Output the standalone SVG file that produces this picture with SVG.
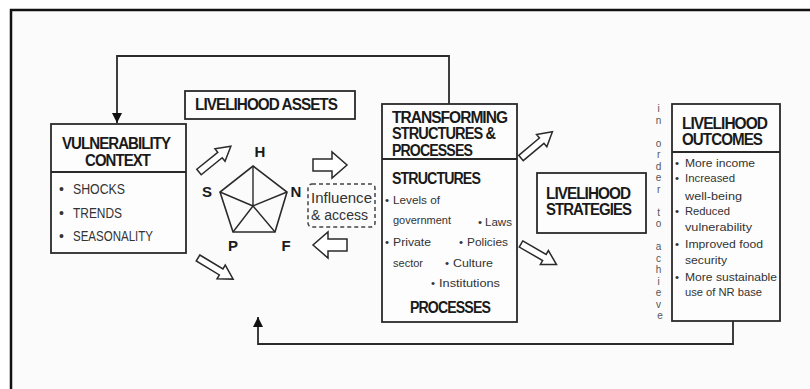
<svg xmlns="http://www.w3.org/2000/svg" xmlns:xlink="http://www.w3.org/1999/xlink" width="810" height="389" viewBox="0 0 810 389">
<style>
.box{fill:#fdfdfd;stroke:#2a2a2a;stroke-width:1.8}
.ln{fill:none;stroke:#2a2a2a;stroke-width:1.8}
.ttl{font-family:"Liberation Sans",Arial,sans-serif;font-weight:bold;font-size:16px;fill:#1a1a1a;letter-spacing:-1px}
.bd{font-family:"Liberation Sans",Arial,sans-serif;font-size:11.5px;fill:#333}
.vb{font-family:"Liberation Sans",Arial,sans-serif;font-size:14px;fill:#333}
.lt{font-family:"Liberation Sans",Arial,sans-serif;font-weight:bold;font-size:15px;fill:#1a1a1a}
.vt{font-family:"Liberation Sans",Arial,sans-serif;font-size:10px;fill:#555}
.harr{fill:#fff;stroke:#2a2a2a;stroke-width:1.5;stroke-linejoin:miter}
</style>
<defs>
<path id="bigArr" class="harr" d="M0,-6 L19,-6 L19,-13 L34,0 L19,13 L19,6 L0,6 Z"/>
<path id="diagArr" class="harr" d="M0,-3.5 L27,-3.5 L27,-8 L41,0 L27,8 L27,3.5 L0,3.5 Z"/>
<marker id="ah" viewBox="0 0 10 10" refX="10" refY="5" markerWidth="10" markerHeight="10" markerUnits="userSpaceOnUse" orient="auto">
<path d="M0,0 L10,5 L0,10 Z" fill="#111"/>
</marker>
</defs>
<rect x="0" y="0" width="810" height="389" fill="#fff"/>
<rect x="11" y="10" width="820" height="400" fill="#fbfbfb" stroke="#111" stroke-width="2.5"/>

<g id="connectors">
<path class="ln" d="M449,104 L449,56 L117,56 L117,123" marker-end="url(#ah)"/>
<path class="ln" d="M733,321 L733,344 L258,344 L258,317" marker-end="url(#ah)"/>
<line x1="517" y1="159" x2="382" y2="322" class="ln"/>
<use xlink:href="#diagArr" transform="translate(199,172) rotate(-39)"/>
<use xlink:href="#diagArr" transform="translate(198,258) rotate(31)"/>
<use xlink:href="#bigArr" transform="translate(313,165)"/>
<use xlink:href="#bigArr" transform="translate(347,245) rotate(180)"/>
<use xlink:href="#diagArr" transform="translate(521,158) rotate(-40)"/>
<use xlink:href="#diagArr" transform="translate(521,244) rotate(30)"/>
</g>

<g id="vulnerability">
<rect class="box" x="51" y="124" width="135" height="129"/>
<line class="ln" x1="51" y1="172" x2="186" y2="172"/>
<text class="ttl" x="62" y="149" textLength="108" lengthAdjust="spacingAndGlyphs">VULNERABILITY</text>
<text class="ttl" x="85" y="166" textLength="65" lengthAdjust="spacingAndGlyphs">CONTEXT</text>
<text class="vb" x="59" y="194">•</text>
<text class="vb" x="73" y="194" textLength="52" lengthAdjust="spacingAndGlyphs">SHOCKS</text>
<text class="vb" x="59" y="218">•</text>
<text class="vb" x="73" y="218" textLength="49" lengthAdjust="spacingAndGlyphs">TRENDS</text>
<text class="vb" x="59" y="241">•</text>
<text class="vb" x="73" y="241" textLength="80" lengthAdjust="spacingAndGlyphs">SEASONALITY</text>
</g>

<g id="assets">
<rect class="box" x="185" y="91" width="170" height="28"/>
<text class="ttl" x="195" y="110" textLength="142" lengthAdjust="spacingAndGlyphs">LIVELIHOOD ASSETS</text>
</g>

<g id="pentagon">
<polygon points="253,166 287,192 275,232 233,232 220,192" fill="none" stroke="#2a2a2a" stroke-width="1.6"/>
<path d="M253,206 L253,166 M253,206 L287,192 M253,206 L275,232 M253,206 L233,232 M253,206 L220,192" fill="none" stroke="#2a2a2a" stroke-width="1.4"/>
<text class="lt" x="260" y="157" text-anchor="middle">H</text>
<text class="lt" x="207" y="197" text-anchor="middle">S</text>
<text class="lt" x="296" y="197" text-anchor="middle">N</text>
<text class="lt" x="233" y="251" text-anchor="middle">P</text>
<text class="lt" x="286" y="251" text-anchor="middle">F</text>
</g>

<g id="influence">
<rect x="308" y="184" width="67" height="43" rx="4" fill="none" stroke="#444" stroke-width="1.5" stroke-dasharray="4,3"/>
<text class="vb" x="311" y="203" textLength="61" lengthAdjust="spacingAndGlyphs">Influence</text>
<text class="vb" x="311" y="220" textLength="57" lengthAdjust="spacingAndGlyphs">&amp; access</text>
</g>

<g id="transforming">
<rect class="box" x="382" y="104" width="135" height="218"/>
<line class="ln" x1="382" y1="159" x2="517" y2="159"/>
<text class="ttl" x="392" y="123" textLength="115" lengthAdjust="spacingAndGlyphs">TRANSFORMING</text>
<text class="ttl" x="392" y="139" textLength="103" lengthAdjust="spacingAndGlyphs">STRUCTURES &amp;</text>
<text class="ttl" x="392" y="156" textLength="80" lengthAdjust="spacingAndGlyphs">PROCESSES</text>
<text class="ttl" x="392" y="184" textLength="88" lengthAdjust="spacingAndGlyphs">STRUCTURES</text>
<text class="bd" x="385" y="204">•</text>
<text class="bd" x="393" y="204" textLength="47" lengthAdjust="spacingAndGlyphs">Levels of</text>
<text class="bd" x="393" y="224" textLength="58" lengthAdjust="spacingAndGlyphs">government</text>
<text class="bd" x="385" y="246">•</text>
<text class="bd" x="393" y="246" textLength="38" lengthAdjust="spacingAndGlyphs">Private</text>
<text class="bd" x="393" y="267" textLength="30" lengthAdjust="spacingAndGlyphs">sector</text>
<text class="bd" x="478" y="226">•</text>
<text class="bd" x="485" y="226" textLength="27" lengthAdjust="spacingAndGlyphs">Laws</text>
<text class="bd" x="459" y="246">•</text>
<text class="bd" x="467" y="246" textLength="41" lengthAdjust="spacingAndGlyphs">Policies</text>
<text class="bd" x="445" y="267">•</text>
<text class="bd" x="453" y="267" textLength="40" lengthAdjust="spacingAndGlyphs">Culture</text>
<text class="bd" x="431" y="287">•</text>
<text class="bd" x="439" y="287" textLength="61" lengthAdjust="spacingAndGlyphs">Institutions</text>
<text class="ttl" x="410" y="313" textLength="80" lengthAdjust="spacingAndGlyphs">PROCESSES</text>
</g>

<g id="strategies">
<rect class="box" x="537" y="173" width="109" height="60"/>
<text class="ttl" x="546" y="199" textLength="84" lengthAdjust="spacingAndGlyphs">LIVELIHOOD</text>
<text class="ttl" x="546" y="215" textLength="85" lengthAdjust="spacingAndGlyphs">STRATEGIES</text>
</g>

<g id="in-order-to-achieve">
<text class="vt" text-anchor="middle">
<tspan x="660" y="112">i</tspan>
<tspan x="660" y="123.5">n</tspan>
<tspan x="660" y="146.5">o</tspan>
<tspan x="660" y="158">r</tspan>
<tspan x="660" y="169.5">d</tspan>
<tspan x="660" y="181">e</tspan>
<tspan x="660" y="192.5">r</tspan>
<tspan x="660" y="215.5">t</tspan>
<tspan x="660" y="227">o</tspan>
<tspan x="660" y="250">a</tspan>
<tspan x="660" y="261.5">c</tspan>
<tspan x="660" y="273">h</tspan>
<tspan x="660" y="284.5">i</tspan>
<tspan x="660" y="296">e</tspan>
<tspan x="660" y="307.5">v</tspan>
<tspan x="660" y="319">e</tspan>
</text>
</g>

<g id="outcomes">
<rect class="box" x="672" y="104" width="108" height="217"/>
<line class="ln" x1="672" y1="152" x2="780" y2="152"/>
<text class="ttl" x="682" y="129" textLength="85" lengthAdjust="spacingAndGlyphs">LIVELIHOOD</text>
<text class="ttl" x="682" y="145" textLength="80" lengthAdjust="spacingAndGlyphs">OUTCOMES</text>
<text class="bd" x="675" y="167">•</text>
<text class="bd" x="685" y="167" textLength="70" lengthAdjust="spacingAndGlyphs">More income</text>
<text class="bd" x="675" y="182">•</text>
<text class="bd" x="685" y="182" textLength="50" lengthAdjust="spacingAndGlyphs">Increased</text>
<text class="bd" x="685" y="200" textLength="57" lengthAdjust="spacingAndGlyphs">well-being</text>
<text class="bd" x="675" y="215">•</text>
<text class="bd" x="685" y="215" textLength="45" lengthAdjust="spacingAndGlyphs">Reduced</text>
<text class="bd" x="685" y="231" textLength="67" lengthAdjust="spacingAndGlyphs">vulnerability</text>
<text class="bd" x="675" y="248">•</text>
<text class="bd" x="685" y="248" textLength="78" lengthAdjust="spacingAndGlyphs">Improved food</text>
<text class="bd" x="685" y="264" textLength="42" lengthAdjust="spacingAndGlyphs">security</text>
<text class="bd" x="675" y="281">•</text>
<text class="bd" x="685" y="281" textLength="92" lengthAdjust="spacingAndGlyphs">More sustainable</text>
<text class="bd" x="685" y="296" textLength="77" lengthAdjust="spacingAndGlyphs">use of NR base</text>
</g>
</svg>
